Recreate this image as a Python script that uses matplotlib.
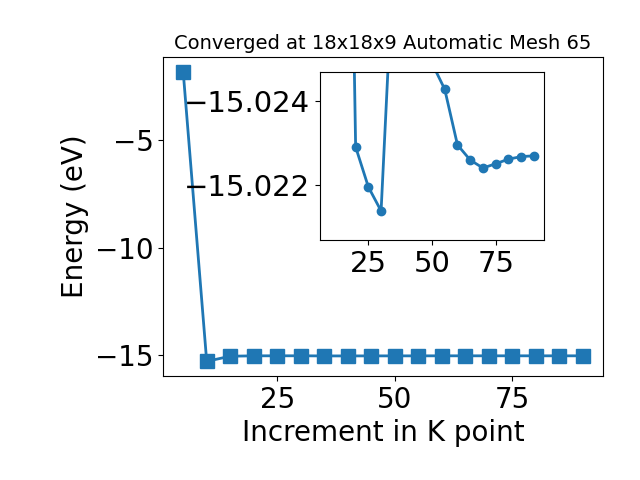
import numpy as np
import matplotlib
matplotlib.use('Agg')
import matplotlib.pyplot as plt

# k-point increments and total energies (eV)
kpoints = np.array([5, 10, 15, 20, 25, 30, 35, 40, 45, 50, 55, 60, 65, 70, 75, 80, 85, 90])
energy = np.array([-1.8, -15.28, -15.041, -15.02291, -15.02196, -15.02139, -15.0276,
                   -15.0272, -15.0262, -15.0249, -15.02428, -15.02296, -15.0226,
                   -15.02241, -15.02251, -15.02262, -15.02268, -15.0227])

fig = plt.figure(figsize=(6.4, 4.8), dpi=100)
ax = fig.add_axes([0.255, 0.217, 0.687, 0.664])
ax.plot(kpoints, energy, marker='s', markersize=10, linewidth=2, color='#1f77b4')
ax.set_xlabel('Increment in K point', fontsize=20)
ax.set_ylabel('Energy (eV)', fontsize=20)
ax.set_title('Converged at 18x18x9 Automatic Mesh 65', fontsize=14)
ax.tick_params(labelsize=20)
ax.set_xticks([25, 50, 75])

# zoomed inset without the first point
ins = fig.add_axes([0.5, 0.5, 0.35, 0.35])
ins.plot(kpoints[1:], energy[1:], marker='o', markersize=6, linewidth=2, color='#1f77b4')
ins.set_ylim(-15.0207, -15.02469)
ins.set_yticks([-15.024, -15.022])
ins.ticklabel_format(axis='y', useOffset=False)
ins.set_xticks([25, 50, 75])
ins.tick_params(labelsize=21)

plt.savefig('out.png')
